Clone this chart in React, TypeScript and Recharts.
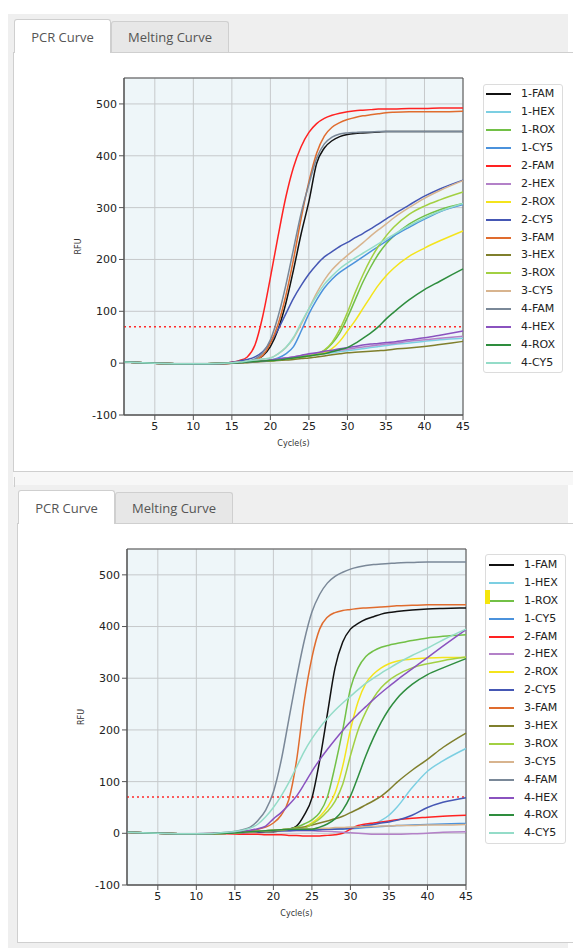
import React from 'react';
import { LineChart, Line, XAxis, YAxis, CartesianGrid, ReferenceLine, ReferenceArea, Legend } from 'recharts';

const CYCLES = [1, 5, 10, 14, 16, 17, 18, 19, 20, 21, 22, 23, 24, 25, 26, 27, 28, 29, 30, 31, 32, 33, 34, 35, 36, 38, 40, 42, 45];

const SERIES = ['1-FAM', '1-HEX', '1-ROX', '1-CY5', '2-FAM', '2-HEX', '2-ROX', '2-CY5', '3-FAM', '3-HEX', '3-ROX', '3-CY5', '4-FAM', '4-HEX', '4-ROX', '4-CY5'];
const COLORS = ['#111111', '#7ccfe2', '#72c046', '#4b92dc', '#ff2222', '#b381c8', '#f4e41c', '#4557b4', '#e06c2e', '#7f7f2c', '#a2d042', '#d8b48e', '#7a8898', '#8a52bf', '#2e8d3e', '#94dcc8'];

const X_TICKS = [5, 10, 15, 20, 25, 30, 35, 40, 45];
const Y_TICKS = [-100, 0, 100, 200, 300, 400, 500];
const THRESHOLD = 70;

// upper plate
const top1Fam = [2, 0, -2, -1, 1, 2, 6, 14, 32, 65, 115, 180, 250, 312, 385, 415, 429, 437, 441, 443, 444, 445, 446, 447, 447, 447, 447, 447, 447];
const top1Hex = [2, 0, -1, 0, 1, 2, 3, 4, 5, 6, 8, 10, 12, 14, 16, 18, 20, 22, 24, 26, 28, 30, 32, 34, 36, 39, 42, 45, 48];
const top1Rox = [2, 0, -1, 0, 1, 2, 3, 4, 5, 6, 8, 10, 12, 14, 17, 24, 38, 58, 88, 122, 156, 185, 210, 230, 245, 268, 284, 296, 308];
const top1Cy5 = [2, 0, -1, 0, 2, 3, 4, 5, 6, 10, 18, 32, 62, 95, 122, 145, 162, 175, 185, 195, 205, 215, 225, 235, 245, 262, 278, 292, 306];
const top2Fam = [2, 0, -2, 0, 5, 12, 35, 90, 165, 245, 320, 378, 418, 445, 462, 472, 478, 482, 485, 487, 488, 489, 490, 490, 490, 491, 491, 492, 492];
const top2Hex = [2, 0, -1, 0, 1, 2, 3, 4, 6, 8, 10, 12, 15, 17, 19, 21, 23, 25, 27, 29, 31, 33, 35, 37, 38, 42, 45, 48, 52];
const top2Rox = [2, 0, -1, 0, 1, 2, 3, 4, 5, 6, 8, 10, 12, 14, 16, 19, 28, 42, 62, 82, 105, 128, 150, 168, 183, 206, 222, 236, 255];
const top2Cy5 = [2, 0, -1, 0, 4, 7, 12, 22, 40, 65, 95, 125, 150, 172, 190, 205, 215, 225, 233, 242, 250, 259, 268, 278, 287, 305, 322, 336, 353];
const top3Fam = [2, 0, -2, -1, 1, 2, 6, 15, 38, 75, 130, 200, 280, 350, 405, 438, 455, 464, 470, 474, 477, 479, 481, 483, 484, 485, 485, 485, 486];
const top3Hex = [2, 0, -1, 0, 1, 1, 2, 3, 4, 5, 6, 7, 9, 10, 12, 14, 16, 18, 20, 21, 22, 23, 24, 25, 27, 29, 32, 36, 42];
const top3Rox = [2, 0, -1, 0, 1, 2, 3, 4, 5, 6, 8, 10, 12, 14, 17, 25, 40, 65, 98, 136, 170, 200, 225, 245, 262, 287, 303, 315, 330];
const top3Cy5 = [2, 0, -1, 0, 2, 4, 6, 8, 10, 18, 30, 48, 75, 105, 135, 160, 180, 195, 208, 220, 232, 245, 257, 268, 280, 300, 318, 333, 352];
const top4Fam = [2, 0, -2, -1, 2, 3, 8, 20, 45, 90, 150, 220, 290, 345, 395, 423, 436, 442, 444, 445, 446, 446, 447, 447, 447, 447, 447, 447, 447];
const top4Hex = [2, 0, -1, 0, 1, 2, 3, 4, 6, 8, 10, 12, 15, 18, 20, 23, 25, 28, 30, 32, 35, 37, 38, 40, 41, 45, 49, 54, 62];
const top4Rox = [2, 0, -1, 0, 1, 2, 3, 4, 5, 6, 8, 10, 12, 14, 16, 18, 22, 26, 30, 38, 48, 58, 70, 85, 98, 122, 142, 158, 182];
const top4Cy5 = [2, 0, -1, 0, 2, 4, 6, 8, 10, 18, 30, 50, 78, 105, 130, 152, 168, 182, 193, 203, 212, 221, 230, 239, 248, 265, 280, 293, 308];

// lower plate
const bot1Fam = [2, 0, -1, 0, 1, 2, 2, 3, 3, 5, 8, 14, 35, 68, 140, 230, 320, 370, 395, 406, 414, 419, 424, 427, 429, 432, 434, 435, 436];
const bot1Hex = [2, 0, -1, 0, 2, 3, 4, 4, 5, 5, 6, 7, 7, 8, 8, 9, 9, 9, 10, 12, 14, 18, 25, 35, 50, 88, 120, 140, 164];
const bot1Rox = [2, 0, -1, 0, 2, 3, 4, 5, 6, 7, 8, 12, 18, 26, 40, 70, 130, 200, 280, 320, 342, 353, 360, 364, 367, 373, 378, 381, 384];
const bot1Cy5 = [2, 0, -1, 0, 2, 3, 4, 5, 6, 6, 7, 7, 7, 8, 8, 8, 8, 8, 9, 10, 11, 12, 13, 14, 15, 16, 17, 18, 19];
const bot2Fam = [2, 0, -1, -1, -2, -2, -2, -3, -3, -3, -4, -4, -5, -5, -5, -4, -3, 0, 8, 15, 18, 20, 22, 24, 26, 29, 31, 33, 35];
const bot2Hex = [2, 0, -1, 0, 1, 2, 3, 4, 5, 5, 5, 5, 5, 5, 4, 4, 3, 2, 1, 0, -1, -2, -2, -2, -2, -1, 0, 2, 3];
const bot2Rox = [2, 0, -1, 0, 2, 3, 4, 5, 6, 7, 8, 10, 12, 20, 32, 50, 78, 130, 200, 255, 290, 308, 320, 328, 333, 337, 339, 340, 340];
const bot2Cy5 = [2, 0, -1, 0, 2, 3, 3, 4, 4, 5, 5, 6, 6, 6, 7, 8, 8, 9, 10, 12, 15, 17, 20, 22, 25, 35, 50, 60, 69];
const bot3Fam = [2, 0, -1, 1, 3, 5, 8, 12, 20, 35, 65, 140, 255, 340, 395, 418, 427, 431, 433, 435, 436, 437, 438, 439, 440, 441, 442, 442, 442];
const bot3Hex = [2, 0, -1, 0, 2, 3, 4, 5, 5, 6, 8, 10, 12, 16, 20, 24, 28, 33, 40, 47, 55, 63, 72, 84, 98, 122, 143, 166, 194];
const bot3Rox = [2, 0, -1, 0, 2, 3, 4, 5, 6, 7, 8, 9, 10, 18, 28, 42, 62, 95, 150, 200, 235, 262, 282, 296, 306, 320, 328, 334, 341];
const bot3Cy5 = [2, 0, -1, 0, 2, 3, 4, 5, 6, 7, 8, 8, 9, 9, 10, 10, 11, 11, 12, 12, 13, 13, 14, 14, 15, 15, 16, 16, 17];
const bot4Fam = [2, 0, -1, 2, 7, 12, 25, 45, 80, 140, 220, 300, 372, 428, 462, 484, 497, 505, 511, 515, 518, 520, 521, 522, 523, 524, 525, 525, 525];
const bot4Hex = [2, 0, -1, 1, 4, 6, 9, 14, 28, 40, 55, 72, 95, 120, 142, 162, 181, 199, 216, 231, 245, 259, 272, 284, 296, 318, 340, 362, 394];
const bot4Rox = [2, 0, -1, 0, 2, 3, 4, 5, 6, 7, 8, 8, 8, 8, 12, 18, 28, 45, 72, 110, 150, 185, 215, 240, 260, 288, 307, 320, 338];
const bot4Cy5 = [2, 0, -1, 2, 6, 10, 18, 32, 50, 72, 98, 128, 158, 183, 204, 222, 238, 252, 265, 278, 290, 300, 310, 319, 328, 344, 358, 374, 395];

const TOP_VALUES = [top1Fam, top1Hex, top1Rox, top1Cy5, top2Fam, top2Hex, top2Rox, top2Cy5, top3Fam, top3Hex, top3Rox, top3Cy5, top4Fam, top4Hex, top4Rox, top4Cy5];
const BOTTOM_VALUES = [bot1Fam, bot1Hex, bot1Rox, bot1Cy5, bot2Fam, bot2Hex, bot2Rox, bot2Cy5, bot3Fam, bot3Hex, bot3Rox, bot3Cy5, bot4Fam, bot4Hex, bot4Rox, bot4Cy5];

const buildRows = (values: number[][]) =>
  CYCLES.map((cycle, i) => {
    const row: Record<string, number> = { cycle };
    SERIES.forEach((name, s) => {
      row[name] = values[s][i];
    });
    return row;
  });

const TICK_FONT = { fontSize: 11, fill: '#222', fontFamily: 'DejaVu Sans' };

const LegendBox = ({ w, h, padTop, padLeft }: { w: number; h: number; padTop: number; padLeft: number }) => (
  <div
    style={{
      width: w,
      height: h,
      boxSizing: 'border-box',
      border: '1px solid #dcdcdc',
      borderRadius: 3,
      background: '#fff',
      paddingTop: padTop,
      paddingLeft: padLeft,
      fontFamily: 'DejaVu Sans',
    }}
  >
    {SERIES.map((name, i) => (
      <div key={name} style={{ display: 'flex', alignItems: 'center', height: 17.9 }}>
        <span style={{ display: 'inline-block', width: 25, height: 2, background: COLORS[i], marginRight: 10 }} />
        <span style={{ fontSize: 11, color: '#222', lineHeight: '12px' }}>{name}</span>
      </div>
    ))}
  </div>
);

type ChartProps = {
  values: number[][];
  width: number;
  height: number;
  right: number;
  legendLeft: number;
  legendTop: number;
  legendW: number;
  legendH: number;
  padTop: number;
  padLeft: number;
};

const PcrChart = (p: ChartProps) => (
  <LineChart width={p.width} height={p.height} data={buildRows(p.values)} margin={{ top: 18, right: p.right, left: 0, bottom: 1 }}>
    <CartesianGrid stroke="#c6c9cb" fill="#eef6f9" />
    <XAxis
      dataKey="cycle"
      type="number"
      domain={[1, 45]}
      ticks={X_TICKS}
      interval={0}
      height={34}
      tickSize={5}
      stroke="#555"
      tick={TICK_FONT}
      label={{ value: 'Cycle(s)', position: 'insideBottom', offset: 3, style: { fontSize: 8, fill: '#333', fontFamily: 'DejaVu Sans' } }}
    />
    <YAxis
      type="number"
      domain={[-100, 550]}
      ticks={Y_TICKS}
      interval={0}
      width={64}
      tickSize={5}
      stroke="#555"
      tick={TICK_FONT}
      label={{ value: 'RFU', angle: -90, position: 'insideLeft', offset: 18, style: { fontSize: 8, fill: '#333', textAnchor: 'middle', fontFamily: 'DejaVu Sans' } }}
    />
    <ReferenceArea x1={1} x2={45} y1={-100} y2={550} fill="none" stroke="#555" strokeWidth={1} />
    <ReferenceLine y={THRESHOLD} stroke="#ff2a2a" strokeDasharray="2 3" strokeWidth={1.5} />
    {SERIES.map((name, i) => (
      <Line key={name} type="monotone" dataKey={name} stroke={COLORS[i]} strokeWidth={1.5} dot={false} isAnimationActive={false} />
    ))}
    <Legend
      layout="vertical"
      align="center"
      verticalAlign="middle"
      wrapperStyle={{ left: p.legendLeft, top: p.legendTop, width: p.legendW }}
      content={() => <LegendBox w={p.legendW} h={p.legendH} padTop={p.padTop} padLeft={p.padLeft} />}
    />
  </LineChart>
);

const tabText: React.CSSProperties = {
  position: 'absolute',
  boxSizing: 'border-box',
  border: '1px solid #cfcfcf',
  borderBottom: 'none',
  borderRadius: '3px 3px 0 0',
  fontFamily: 'Open Sans',
  fontSize: 13,
  color: '#555',
  display: 'flex',
  alignItems: 'center',
  justifyContent: 'center',
};

const Tabs = ({ top, left }: { top: number; left: number }) => (
  <>
    <div style={{ ...tabText, left, top, width: 97, height: 34, background: '#fff', zIndex: 2 }}>PCR Curve</div>
    <div style={{ ...tabText, left: left + 97, top: top + 2, width: 118, height: 31, background: '#e7e7e7' }}>Melting Curve</div>
  </>
);

export default function App() {
  return (
    <div style={{ position: 'absolute', left: 0, top: 0, width: 573, height: 948, background: '#fff', overflow: 'hidden' }}>
      <div style={{ position: 'absolute', left: 8, top: 14, width: 560, height: 934, background: '#efefef' }} />
      <div style={{ position: 'absolute', left: 13, top: 472, width: 560, height: 13, background: '#f7f7f7' }} />
      <div style={{ position: 'absolute', left: 14, top: 477, width: 1, height: 10, background: '#ccc' }} />

      <Tabs top={19} left={14} />
      <div style={{ position: 'absolute', left: 13, top: 52, width: 560, height: 420, boxSizing: 'border-box', background: '#fff', borderLeft: '1px solid #cfcfcf', borderTop: '1px solid #cfcfcf', borderBottom: '1px solid #cfcfcf' }} />
      <div style={{ position: 'absolute', left: 60, top: 60 }}>
        <PcrChart values={TOP_VALUES} width={513} height={390} right={110} legendLeft={423} legendTop={24} legendW={80} legendH={289} padTop={0.5} padLeft={2} />
      </div>

      <Tabs top={490} left={18} />
      <div style={{ position: 'absolute', left: 17, top: 523, width: 556, height: 420, boxSizing: 'border-box', background: '#fff', borderLeft: '1px solid #cfcfcf', borderTop: '1px solid #cfcfcf', borderBottom: '1px solid #cfcfcf' }} />
      <div style={{ position: 'absolute', left: 63, top: 531 }}>
        <PcrChart values={BOTTOM_VALUES} width={510} height={389} right={107} legendLeft={422} legendTop={23} legendW={81} legendH={290} padTop={1} padLeft={3} />
      </div>
      <div style={{ position: 'absolute', left: 485, top: 590, width: 5, height: 14, background: '#f5e60c' }} />
    </div>
  );
}
